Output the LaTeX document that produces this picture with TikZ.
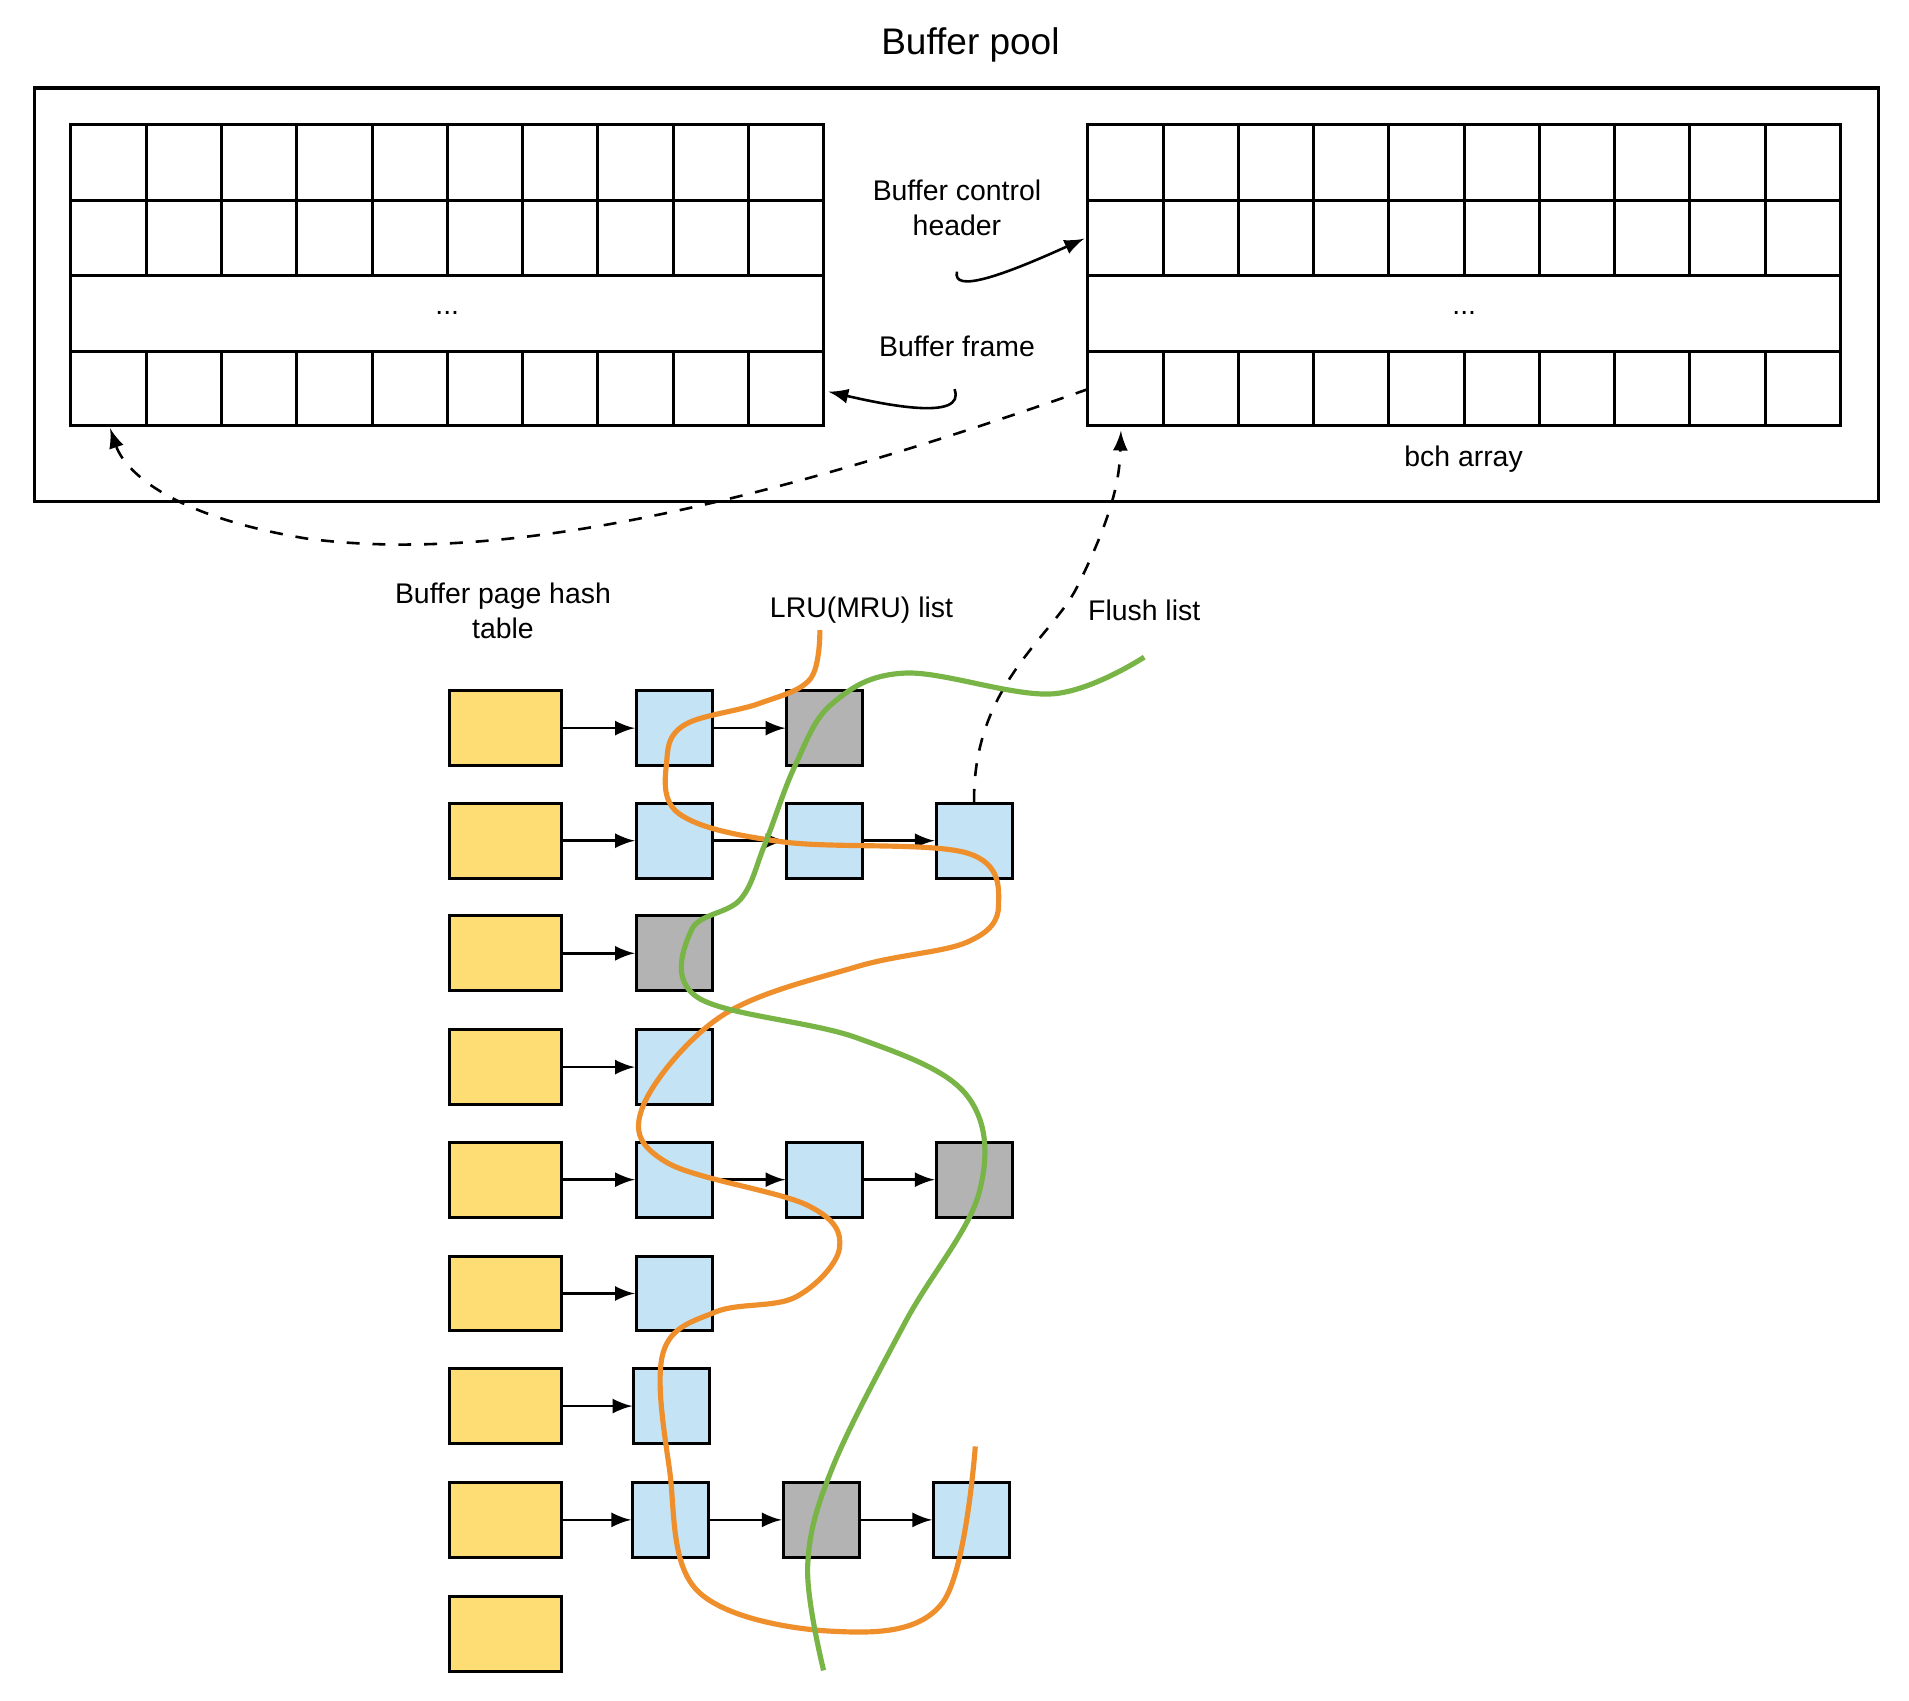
\documentclass[tikz,border=0pt]{standalone}
\usepackage{fontspec}
\setmainfont{Liberation Sans}
\usetikzlibrary{arrows,positioning,calc}
\definecolor{hashyel}{HTML}{FEDE74}
\definecolor{pageblue}{HTML}{C4E3F5}
\definecolor{pagegray}{HTML}{B3B3B3}
\definecolor{lruorange}{HTML}{EE8F2C}
\definecolor{flushgreen}{HTML}{78B446}
\tikzstyle{hash} = [rectangle,fill=hashyel,draw=black,line width=0.7pt,
minimum width=0.92cm, minimum height=0.61cm, inner sep=0pt]
\tikzstyle{page} = [rectangle,fill=pageblue,draw=black,line width=0.7pt,
minimum width=0.62cm, minimum height=0.61cm, inner sep=0pt]
\tikzstyle{dirty} = [page,fill=pagegray]
\tikzstyle{lbl} = [font=\fontsize{6.6}{8}\selectfont, align=center, inner sep=0pt]
\tikzstyle{arr} = [->, >={latex}, line width=0.6pt]
\newcommand{\bpgrid}[2]{ %
  % frame grid with its left edge at #1, named #2
  \draw[line width=0.7pt] (#1,102) rectangle ++(615,246);
  \foreach \r in {164,225,287} {\draw[line width=0.7pt] (#1,\r) -- ++(615,0);}
  \foreach \c in {1,...,9} { %
    \draw[line width=0.7pt] ($(#1,102)+(61.5*\c,0)$) -- ++(0,123);
    \draw[line width=0.7pt] ($(#1,287)+(61.5*\c,0)$) -- ++(0,61);
  }
  \node[lbl] (#2) at ($(#1,256)+(307.5,0)$) {...};
}
\begin{document}
\begin{tikzpicture}[x=0.01cm,y=-0.01cm]
  \useasboundingbox (0,0) rectangle (1560,1390);
  \node[font=\fontsize{8.6}{10}\selectfont] (title) at (793,37) {Buffer pool};
  \draw[line width=0.8pt] (28,72) rectangle (1535,410);
  \bpgrid{58}{frames}
  \bpgrid{889}{bchs}
  \node[lbl] (bch) at (1196,375) {bch array};
  \node[lbl] (hdr) at (782,170) {Buffer control\\header};
  \node[lbl] (frm) at (782,283) {Buffer frame};
  \coordinate (hdrin) at (886,195);
  \coordinate (frmin) at (677,320);
  \draw[arr] (782,222) .. controls (778,240) and (820,225) .. (hdrin);
  \draw[arr] (780,318) .. controls (790,345) and (720,330) .. (frmin);
  % labels of the lists
  \node[lbl] (hashlbl) at (411,499) {Buffer page hash\\table};
  \node[lbl] (lrulbl) at (704,499) {LRU(MRU) list};
  \node[lbl] (flushlbl) at (935,499) {Flush list};
  % hash table
  \foreach \i/\y in {1/595,2/687,3/779,4/872,5/964,6/1057,7/1149,8/1242,9/1335}
    \node[hash] (h\i) at (413,\y) {};
  % pages
  \node[page]  (p11) at (551,595) {};
  \node[dirty] (p12) at (674,595) {};
  \node[page]  (p21) at (551,687) {};
  \node[page]  (p22) at (674,687) {};
  \node[page]  (p23) at (796,687) {};
  \node[dirty] (p31) at (551,779) {};
  \node[page]  (p41) at (551,872) {};
  \node[page]  (p51) at (551,964) {};
  \node[page]  (p52) at (674,964) {};
  \node[dirty] (p53) at (796,964) {};
  \node[page]  (p61) at (551,1057) {};
  \node[page]  (p71) at (549,1149) {};
  \node[page]  (p81) at (548,1242) {};
  \node[dirty] (p82) at (671,1242) {};
  \node[page]  (p83) at (794,1242) {};
  % chains
  \foreach \a/\b in {h1/p11,p11/p12,h2/p21,p21/p22,p22/p23,h3/p31,h4/p41,
    h5/p51,p51/p52,p52/p53,h6/p61,h7/p71,h8/p81,p81/p82,p82/p83}
    \draw[arr] (\a) -- (\b);
  % hash table to frames, flush list to bch
  \draw[arr, dashed] (889,318) .. controls (600,420) and (400,460) .. (250,440)
    .. controls (130,420) and (100,380) .. (90,350);
  \draw[arr, dashed] (p23.north) .. controls (795,560) and (860,520) .. (880,480)
    .. controls (910,420) and (915,390) .. (916,352);
  % LRU list
  \draw[lruorange, line width=1.2pt] plot[smooth, tension=0.6] coordinates {
    (670,515) (662,555) (620,575) (560,592) (545,620) (555,665) (640,688)
    (790,697) (816,740) (790,770) (700,790) (590,830) (525,905) (545,950)
    (660,985) (686,1020) (650,1060) (585,1072) (542,1105) (547,1200)
    (570,1300) (680,1333) (770,1310) (797,1182)};
  % flush list
  \draw[flushgreen, line width=1.2pt] plot[smooth, tension=0.6] coordinates {
    (935,537) (860,567) (740,550) (680,575) (650,625) (625,690) (605,735)
    (565,760) (570,815) (700,848) (790,895) (800,975) (740,1080) (680,1200)
    (660,1280) (673,1365)};
\end{tikzpicture}
\end{document}
